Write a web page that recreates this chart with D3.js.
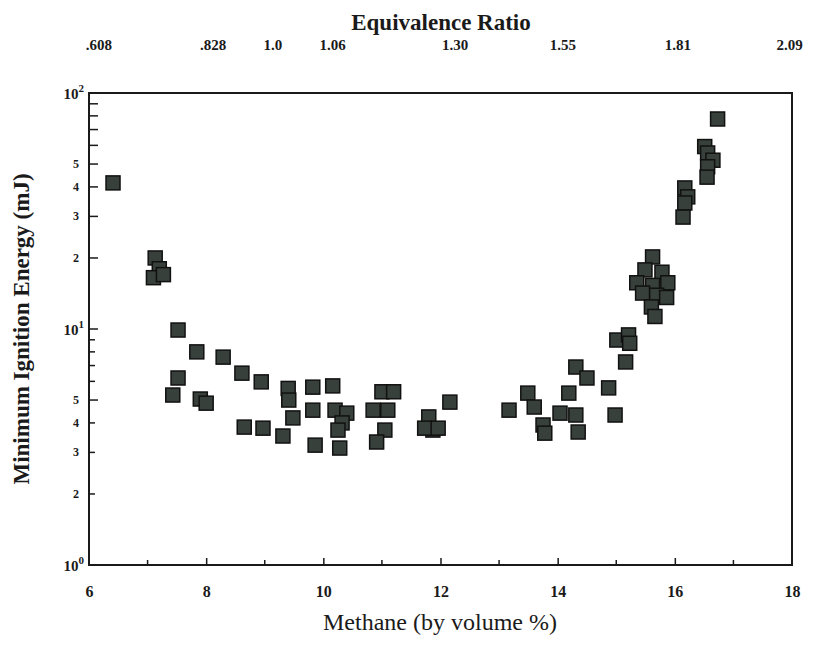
<!DOCTYPE html>
<html lang="en">
<head>
<meta charset="UTF-8">
<title>Minimum Ignition Energy vs Methane</title>
<script src="https://d3js.org/d3.v7.min.js"></script>
<style>
  body { margin: 0; background: #fff; }
</style>
</head>
<body>
<div id="chart"></div>
<script>
// methane % by volume (x) and minimum ignition energy in mJ (y)
const methane = [
  6.41, 7.13, 7.2, 7.1, 7.27,
  7.52, 7.84, 8.29, 8.61, 8.94, 7.52, 7.43, 7.9, 8.0,
  9.4, 9.41, 9.48, 8.65, 8.97, 9.31, 9.82, 9.82, 9.86,
  10.16, 10.2, 10.4, 10.32, 10.25, 10.28,
  11.0, 11.2, 10.85, 11.1, 11.05, 10.91,
  12.16, 11.8, 11.87, 11.73, 11.96,
  13.17, 13.49, 13.6, 13.75, 13.78, 14.04, 14.19, 14.31, 14.35, 14.31, 14.5,
  14.87, 14.98, 15.16, 15.01, 15.21, 15.23,
  15.62, 15.49, 15.78, 15.35, 15.62, 15.88, 15.45, 15.69, 15.86, 15.6, 15.66,
  16.17, 16.22, 16.17, 16.14,
  16.51, 16.56, 16.65, 16.56, 16.55, 16.73
];
const energy = [
  41.6, 20, 18, 16.5, 17,
  9.9, 8.0, 7.6, 6.5, 5.97, 6.2, 5.25, 5.05, 4.85,
  5.6, 5.0, 4.2, 3.84, 3.8, 3.52, 5.67, 4.53, 3.22,
  5.74, 4.53, 4.4, 4.0, 3.73, 3.13,
  5.42, 5.42, 4.53, 4.53, 3.73, 3.32,
  4.9, 4.24, 3.73, 3.8, 3.8,
  4.53, 5.35, 4.67, 3.92, 3.62, 4.4, 5.35, 4.32, 3.66, 6.9, 6.2,
  5.63, 4.32, 7.25, 8.98, 9.44, 8.7,
  20.2, 17.8, 17.4, 15.7, 15.3, 15.7, 14.2, 13.9, 13.6, 12.4, 11.3,
  39.6, 36.3, 34.2, 29.8,
  59.3, 55.7, 51.9, 48.7, 44.0, 77.6
];

const xTicks = [6, 8, 10, 12, 14, 16, 18];
const xMinorTicks = [7, 9, 11, 13, 15, 17];
const yMajorTicks = [1, 10, 100];
const yMajorLabels = ["0", "1", "2"];
const yMinorLabels = [2, 3, 4, 5];
// equivalence ratio labels on top, with the methane % they sit over
const phiLabels = [".608", ".828", "1.0", "1.06", "1.30", "1.55", "1.81", "2.09"];
const phiPos = [6.17, 8.12, 9.14, 10.16, 12.25, 14.09, 16.05, 17.96];

const W = 816, H = 646;
const margin = { left: 89, right: 24, top: 93, bottom: 81 };
const serif = "'Liberation Serif', 'DejaVu Serif', 'Times New Roman', serif";

const svg = d3.select("#chart").append("svg")
  .attr("width", W)
  .attr("height", H);

const x = d3.scaleLinear().domain([6, 18]).range([margin.left, W - margin.right]);
const y = d3.scaleLog().domain([1, 100]).range([H - margin.bottom, margin.top]);

// frame
svg.append("rect")
  .attr("x", x(6)).attr("y", y(100))
  .attr("width", x(18) - x(6)).attr("height", y(1) - y(100))
  .attr("fill", "none").attr("stroke", "#1a1a1a").attr("stroke-width", 2);

// bottom axis, ticks pointing in
const xAxis = svg.append("g")
  .attr("transform", `translate(0,${y(1)})`)
  .call(d3.axisBottom(x).tickValues(xTicks).tickSizeInner(-7).tickSizeOuter(0).tickPadding(21));
xAxis.select(".domain").remove();
xAxis.selectAll("line").attr("stroke", "#1a1a1a").attr("stroke-width", 1.5);
xAxis.selectAll("text")
  .attr("font-size", 16).attr("font-weight", "bold");
xAxis.selectAll(".tick").filter(d => d === 6 || d === 18).select("line").remove();

svg.append("g").selectAll("line")
  .data(xMinorTicks)
  .join("line")
  .attr("x1", d => x(d)).attr("x2", d => x(d))
  .attr("y1", y(1)).attr("y2", y(1) - 5)
  .attr("stroke", "#1a1a1a").attr("stroke-width", 1.5);

// left axis: minor ticks at 2..9 in each decade
const yMinor = [];
[1, 10].forEach(dec => { for (let k = 2; k <= 9; k++) yMinor.push(dec * k); });
svg.append("g").selectAll("line")
  .data(yMinor.concat([10]))
  .join("line")
  .attr("x1", x(6)).attr("x2", d => x(6) + (d % 5 === 0 ? 9 : 6))
  .attr("y1", d => y(d)).attr("y2", d => y(d))
  .attr("stroke", "#1a1a1a").attr("stroke-width", 1.5);

// decade labels 10^n
const decade = svg.append("g").selectAll("text")
  .data(yMajorTicks)
  .join("text")
  .attr("x", x(6) - 5)
  .attr("y", d => y(d) + 6)
  .attr("text-anchor", "end")
  .attr("font-size", 15).attr("font-weight", "bold");
decade.append("tspan").text("10");
decade.append("tspan")
  .attr("dy", -7).attr("font-size", 11)
  .text((d, i) => yMajorLabels[i]);

// small minor labels 2..5 in both decades
const minorLab = [];
[1, 10].forEach(dec => yMinorLabels.forEach(k => minorLab.push({ v: dec * k, k })));
svg.append("g").selectAll("text")
  .data(minorLab)
  .join("text")
  .attr("x", x(6) - 13)
  .attr("y", d => y(d.v) + 4)
  .attr("text-anchor", "middle")
  .attr("font-size", 12).attr("font-weight", "bold")
  .text(d => d.k);

// top labels: equivalence ratio
svg.append("g").selectAll("text")
  .data(phiLabels)
  .join("text")
  .attr("x", (d, i) => x(phiPos[i]))
  .attr("y", 50)
  .attr("text-anchor", "middle")
  .attr("font-size", 15).attr("font-weight", "bold")
  .text(d => d);

svg.append("text")
  .attr("x", 441).attr("y", 30)
  .attr("text-anchor", "middle")
  .attr("font-size", 23).attr("font-weight", "bold")
  .text("Equivalence Ratio");

svg.append("text")
  .attr("x", 440).attr("y", 630)
  .attr("text-anchor", "middle")
  .attr("font-size", 24)
  .text("Methane (by volume %)");

svg.append("text")
  .attr("transform", `translate(29,${(y(1) + y(100)) / 2}) rotate(-90)`)
  .attr("text-anchor", "middle")
  .attr("font-size", 23).attr("font-weight", "bold")
  .text("Minimum Ignition Energy (mJ)");

// data squares
const s = 14;
svg.append("g").selectAll("rect")
  .data(methane.map((m, i) => [m, energy[i]]))
  .join("rect")
  .attr("x", d => x(d[0]) - s / 2)
  .attr("y", d => y(d[1]) - s / 2)
  .attr("width", s).attr("height", s)
  .attr("fill", "#37403b")
  .attr("stroke", "#111")
  .attr("stroke-width", 1.5);

svg.selectAll("text").style("font-family", serif).style("fill", "#1a1a1a");
</script>
</body>
</html>
